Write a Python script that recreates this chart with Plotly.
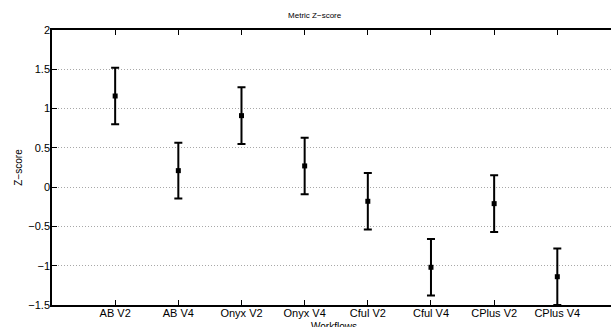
import plotly.graph_objects as go

workflows = ["AB V2", "AB V4", "Onyx V2", "Onyx V4", "Cful V2", "Cful V4", "CPlus V2", "CPlus V4"]
zscore = [1.16, 0.21, 0.91, 0.27, -0.18, -1.02, -0.21, -1.14]
err = [0.36, 0.355, 0.36, 0.36, 0.36, 0.36, 0.36, 0.36]
yticks = [-1.5, -1, -0.5, 0, 0.5, 1, 1.5, 2]

xpos = list(range(1, len(workflows) + 1))

fig = go.Figure()
fig.add_trace(go.Scatter(
    x=xpos, y=zscore, mode="markers",
    marker=dict(symbol="square", size=5, color="black"),
    error_y=dict(type="data", array=err, visible=True, color="black", thickness=2, width=4),
    showlegend=False, cliponaxis=False,
))

fig.update_layout(
    width=611, height=327,
    margin=dict(l=52, r=0, t=30, b=22),
    paper_bgcolor="white", plot_bgcolor="white",
    font=dict(family="Liberation Sans, Arial, sans-serif", color="black", size=11),
    title=dict(text="Metric Z\u2212score", font=dict(size=8), x=0.515, xanchor="center", y=0.955, yanchor="middle"),
    annotations=[dict(text="Workflows", xref="paper", yref="paper", x=0.505, y=-0.05,
                      xanchor="center", yanchor="top", showarrow=False, font=dict(size=10))],
)
fig.update_xaxes(
    range=[0, 8.85], tickvals=xpos, ticktext=workflows,
    ticks="inside", ticklen=5, tickcolor="black", tickwidth=1,
    showline=True, linecolor="black", linewidth=1.5, mirror="ticks",
    showgrid=False, zeroline=False, automargin=False,
    ticklabelstandoff=-3,
)
fig.update_yaxes(
    range=[-1.5, 2], tickvals=yticks, ticktext=[("\u2212" if v < 0 else "") + ("%g" % abs(v)) for v in yticks],
    ticks="inside", ticklen=5, tickcolor="black", tickwidth=1,
    showline=True, linecolor="black", linewidth=1.5,
    showgrid=True, gridcolor="#a8a8a8", griddash="1px,2px", gridwidth=1,
    zeroline=False, automargin=False, ticklabelstandoff=-2,
    title=dict(text="Z\u2212score", font=dict(size=10), standoff=4),
)

fig.write_html("out.html")
